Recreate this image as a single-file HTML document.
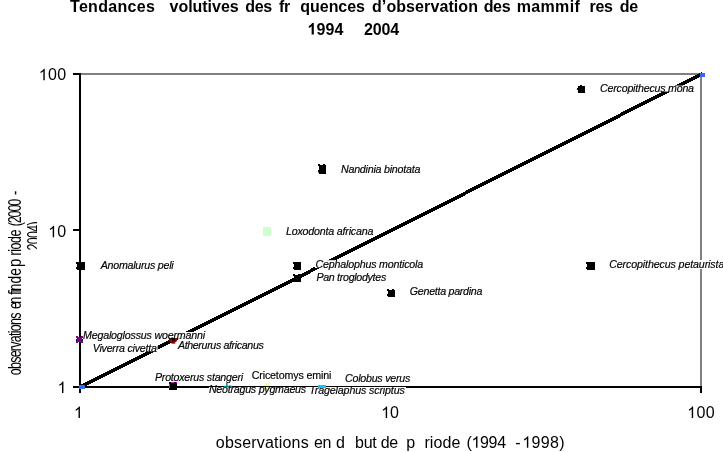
<!DOCTYPE html>
<html><head><meta charset="utf-8"><title>Tendances evolutives</title>
<style>
html,body{margin:0;padding:0;background:#fff;}
body{width:723px;height:452px;overflow:hidden;position:relative;font-family:"Liberation Sans",sans-serif;}
svg{position:absolute;left:0;top:0;display:block;}
svg text{font-family:"Liberation Sans",sans-serif;fill:#000;white-space:pre;}
</style></head>
<body>
<svg width="723" height="452" viewBox="0 0 723 452">
<rect x="0" y="0" width="723" height="452" fill="#fff"/>
<g id="shapes">
<rect x="81" y="73" width="621" height="2" fill="#808080"/>
<rect x="700" y="73" width="2" height="313" fill="#808080"/>
<rect x="79" y="73" width="2" height="320" fill="#000"/>
<rect x="73" y="386" width="629" height="2" fill="#000"/>
<rect x="73" y="73" width="8" height="2" fill="#000"/>
<rect x="73" y="229" width="6" height="2" fill="#000"/>
<rect x="700" y="386" width="2" height="7" fill="#000"/>
<polygon points="80,385 702,72 702,76 80,389" fill="#000" shape-rendering="crispEdges"/>
<rect x="83" y="332.0" width="123.5" height="6.6" fill="#fff"/>
<rect x="92" y="344.6" width="65.6" height="7.0" fill="#fff"/>
<rect x="315" y="260.2" width="109" height="7.8" fill="#fff"/>
<rect x="600" y="85.6" width="95" height="6.0" fill="#fff"/>
<rect x="698" y="260" width="8" height="9" fill="#fff"/>
<rect x="79" y="385" width="6" height="4" fill="#3366FF"/>
<rect x="700" y="73" width="5" height="4" fill="#3366FF"/>
<rect x="263" y="227" width="8" height="9" fill="#CCFFCC"/>
<rect x="578" y="86" width="7" height="7" fill="#000"/>
<rect x="580" y="85" width="2" height="1" fill="#000"/>
<rect x="577" y="88" width="1" height="2" fill="#000"/>
<rect x="319" y="165" width="7" height="9" fill="#000"/>
<rect x="318" y="164" width="2" height="2" fill="#000"/>
<rect x="323" y="164" width="2" height="1" fill="#000"/>
<rect x="318" y="170" width="1" height="2.5" fill="#000"/>
<rect x="77" y="262" width="8" height="8" fill="#000"/>
<rect x="76" y="262" width="1" height="2" fill="#000"/>
<rect x="76" y="267" width="1" height="2" fill="#000"/>
<rect x="294" y="262" width="7" height="8" fill="#000"/>
<rect x="293" y="262" width="1" height="2" fill="#000"/>
<rect x="293" y="267" width="1" height="2" fill="#000"/>
<rect x="294" y="275" width="7" height="7" fill="#000"/>
<rect x="293" y="274" width="2" height="2" fill="#000"/>
<rect x="298" y="274" width="2" height="1" fill="#000"/>
<rect x="587" y="262" width="8" height="8" fill="#000"/>
<rect x="586" y="262" width="1" height="2" fill="#000"/>
<rect x="586" y="267" width="1" height="2" fill="#000"/>
<rect x="388" y="290" width="7" height="7" fill="#000"/>
<rect x="387" y="289" width="2" height="2" fill="#000"/>
<rect x="392" y="289" width="2" height="1" fill="#000"/>
<rect x="387" y="294" width="1" height="2" fill="#000"/>
<rect x="169" y="382" width="8" height="8" fill="#000"/>
<rect x="171" y="382" width="3" height="1" fill="#FF00FF"/>
<rect x="169" y="384" width="1" height="4" fill="#FF00FF"/>
<rect x="176" y="382" width="1" height="1" fill="#FF00FF"/>
<rect x="76" y="336" width="1" height="1" fill="#800080"/>
<rect x="77" y="336" width="1" height="1" fill="#800080"/>
<rect x="81" y="336" width="1" height="1" fill="#800080"/>
<rect x="82" y="336" width="1" height="1" fill="#800080"/>
<rect x="76" y="337" width="1" height="1" fill="#800080"/>
<rect x="77" y="337" width="1" height="1" fill="#800080"/>
<rect x="78" y="337" width="1" height="1" fill="#800080"/>
<rect x="79" y="337" width="1" height="1" fill="#800080"/>
<rect x="80" y="337" width="1" height="1" fill="#800080"/>
<rect x="81" y="337" width="1" height="1" fill="#800080"/>
<rect x="82" y="337" width="1" height="1" fill="#800080"/>
<rect x="77" y="338" width="1" height="1" fill="#800080"/>
<rect x="78" y="338" width="1" height="1" fill="#800080"/>
<rect x="79" y="338" width="1" height="1" fill="#800080"/>
<rect x="80" y="338" width="1" height="1" fill="#800080"/>
<rect x="81" y="338" width="1" height="1" fill="#800080"/>
<rect x="76" y="339" width="1" height="1" fill="#000080"/>
<rect x="77" y="339" width="1" height="1" fill="#800080"/>
<rect x="78" y="339" width="1" height="1" fill="#800080"/>
<rect x="79" y="339" width="1" height="1" fill="#800080"/>
<rect x="80" y="339" width="1" height="1" fill="#800080"/>
<rect x="81" y="339" width="1" height="1" fill="#800080"/>
<rect x="82" y="339" width="1" height="1" fill="#000080"/>
<rect x="76" y="340" width="1" height="1" fill="#000080"/>
<rect x="77" y="340" width="1" height="1" fill="#800080"/>
<rect x="78" y="340" width="1" height="1" fill="#800080"/>
<rect x="79" y="340" width="1" height="1" fill="#800080"/>
<rect x="80" y="340" width="1" height="1" fill="#800080"/>
<rect x="81" y="340" width="1" height="1" fill="#800080"/>
<rect x="82" y="340" width="1" height="1" fill="#000080"/>
<rect x="76" y="341" width="1" height="1" fill="#800080"/>
<rect x="77" y="341" width="1" height="1" fill="#800080"/>
<rect x="78" y="341" width="1" height="1" fill="#800080"/>
<rect x="79" y="341" width="1" height="1" fill="#800080"/>
<rect x="80" y="341" width="1" height="1" fill="#800080"/>
<rect x="81" y="341" width="1" height="1" fill="#800080"/>
<rect x="82" y="341" width="1" height="1" fill="#800080"/>
<rect x="76" y="342" width="1" height="1" fill="#800080"/>
<rect x="77" y="342" width="1" height="1" fill="#800080"/>
<rect x="81" y="342" width="1" height="1" fill="#800080"/>
<rect x="82" y="342" width="1" height="1" fill="#800080"/>
<rect x="169" y="338" width="3" height="3" fill="#990000"/>
<rect x="174.6" y="338" width="2.4" height="3" fill="#990000"/>
<rect x="172" y="338" width="2.6" height="2.8" fill="#000"/>
<rect x="170" y="340.8" width="6.4" height="1.2" fill="#990000"/>
<rect x="171.5" y="342" width="3.8" height="1.7" fill="#990000"/>
<rect x="209" y="387" width="197" height="11" fill="#fff"/>
<polygon points="266.8,381.6 270.2,386 266.8,390.4 263.4,386" fill="#FFFF99"/>
<rect x="262" y="386" width="10" height="1" fill="#000"/>
<rect x="226.1" y="383" width="1.5" height="3.5" fill="#008B8B"/>
<rect x="223.8" y="385.8" width="8.2" height="1.3" fill="#008B8B"/>
<rect x="318" y="385" width="8" height="3" fill="#00CCFF"/>
</g>
</svg>
<svg width="723" height="452" viewBox="0 0 723 452" style="will-change:transform">
<g id="labels">
<text x="70.00" y="12.30" font-size="16" font-weight="bold" letter-spacing="0.300">Tendances</text>
<text x="169.50" y="12.30" font-size="16" font-weight="bold" letter-spacing="-0.020">volutives</text>
<text x="245.26" y="12.30" font-size="16" font-weight="bold" letter-spacing="-0.350">des</text>
<text x="279.00" y="12.30" font-size="16" font-weight="bold" letter-spacing="-0.328">fr</text>
<text x="300.30" y="12.30" font-size="16" font-weight="bold" letter-spacing="-0.036">quences</text>
<text x="372.00" y="12.30" font-size="16" font-weight="bold" letter-spacing="0.089">d’observation</text>
<text x="483.66" y="12.30" font-size="16" font-weight="bold" letter-spacing="-0.350">des</text>
<text x="516.80" y="12.30" font-size="16" font-weight="bold" letter-spacing="0.315">mammif</text>
<text x="589.59" y="12.30" font-size="16" font-weight="bold" letter-spacing="-0.350">res</text>
<text x="619.84" y="12.30" font-size="16" font-weight="bold" letter-spacing="-0.350">de</text>
<path transform="translate(307.53,34.50) scale(0.007812,-0.007812)" d="M806 0H525V1059Q371 915 162 846V1101Q272 1137 401 1237.5T578 1472H806Z"/>
<text x="316.52" y="34.50" font-size="16" font-weight="bold" letter-spacing="0.090">994</text>
<text x="364.00" y="34.50" font-size="16" font-weight="bold" letter-spacing="-0.165">2004</text>
<text x="215.80" y="447.70" font-size="16" letter-spacing="0.198">observations</text>
<text x="313.88" y="447.70" font-size="16" letter-spacing="-0.350">en</text>
<text x="336.10" y="447.70" font-size="16">d</text>
<text x="355.10" y="447.70" font-size="16" letter-spacing="-0.350">but</text>
<text x="380.68" y="447.70" font-size="16" letter-spacing="-0.350">de</text>
<text x="406.20" y="447.70" font-size="16">p</text>
<text x="424.40" y="447.70" font-size="16" letter-spacing="0.105">riode</text>
<text x="466.50" y="447.70" font-size="16" letter-spacing="-0.331">(</text>
<path transform="translate(471.50,447.70) scale(0.007812,-0.007812)" d="M763 0H583V1147Q518 1085 412.5 1023T223 930V1104Q374 1175 487 1276T647 1472H763Z"/>
<text x="480.06" y="447.70" font-size="16" letter-spacing="-0.331">994</text>
<text x="515.30" y="447.70" font-size="16">-</text>
<path transform="translate(522.33,447.70) scale(0.007812,-0.007812)" d="M763 0H583V1147Q518 1085 412.5 1023T223 930V1104Q374 1175 487 1276T647 1472H763Z"/>
<text x="531.58" y="447.70" font-size="16" letter-spacing="0.350">998)</text>
<path transform="translate(38.78,80.30) scale(0.007812,-0.007812)" d="M763 0H583V1147Q518 1085 412.5 1023T223 930V1104Q374 1175 487 1276T647 1472H763Z"/>
<text x="48.03" y="80.30" font-size="16" letter-spacing="0.350">00</text>
<path transform="translate(48.16,237.30) scale(0.007812,-0.007812)" d="M763 0H583V1147Q518 1085 412.5 1023T223 930V1104Q374 1175 487 1276T647 1472H763Z"/>
<text x="57.30" y="237.30" font-size="16" letter-spacing="0.244">0</text>
<path transform="translate(57.46,393.10) scale(0.007812,-0.007812)" d="M763 0H583V1147Q518 1085 412.5 1023T223 930V1104Q374 1175 487 1276T647 1472H763Z"/>
<path transform="translate(73.96,418.00) scale(0.007812,-0.007812)" d="M763 0H583V1147Q518 1085 412.5 1023T223 930V1104Q374 1175 487 1276T647 1472H763Z"/>
<path transform="translate(381.16,418.00) scale(0.007812,-0.007812)" d="M763 0H583V1147Q518 1085 412.5 1023T223 930V1104Q374 1175 487 1276T647 1472H763Z"/>
<text x="390.00" y="418.00" font-size="16" letter-spacing="-0.056">0</text>
<path transform="translate(687.18,418.00) scale(0.007812,-0.007812)" d="M763 0H583V1147Q518 1085 412.5 1023T223 930V1104Q374 1175 487 1276T647 1472H763Z"/>
<text x="696.43" y="418.00" font-size="16" letter-spacing="0.350">00</text>
<text x="600.10" y="92.10" font-size="10.67" font-style="italic" letter-spacing="-0.224" stroke="#000" stroke-width="0.18">Cercopithecus mona</text>
<text x="341.00" y="172.70" font-size="10.67" font-style="italic" letter-spacing="-0.226" stroke="#000" stroke-width="0.18">Nandinia binotata</text>
<text x="285.90" y="234.50" font-size="10.67" font-style="italic" letter-spacing="-0.183" stroke="#000" stroke-width="0.18">Loxodonta africana</text>
<text x="100.70" y="268.80" font-size="10.67" font-style="italic" letter-spacing="-0.246" stroke="#000" stroke-width="0.18">Anomalurus peli</text>
<text x="315.50" y="268.10" font-size="10.67" font-style="italic" letter-spacing="-0.182" stroke="#000" stroke-width="0.18">Cephalophus monticola</text>
<text x="316.40" y="280.80" font-size="10.67" font-style="italic" letter-spacing="-0.301" stroke="#000" stroke-width="0.18">Pan troglodytes</text>
<text x="609.20" y="267.60" font-size="10.67" font-style="italic" letter-spacing="-0.120" stroke="#000" stroke-width="0.18">Cercopithecus petaurista</text>
<text x="409.80" y="294.70" font-size="10.67" font-style="italic" letter-spacing="-0.271" stroke="#000" stroke-width="0.18">Genetta pardina</text>
<text x="83.00" y="338.60" font-size="10.67" font-style="italic" letter-spacing="-0.186" stroke="#000" stroke-width="0.18">Megaloglossus woermanni</text>
<text x="92.70" y="351.50" font-size="10.67" font-style="italic" letter-spacing="-0.221" stroke="#000" stroke-width="0.18">Viverra civetta</text>
<text x="177.90" y="348.60" font-size="10.67" font-style="italic" letter-spacing="-0.360" stroke="#000" stroke-width="0.18">Atherurus africanus</text>
<text x="155.00" y="380.70" font-size="10.67" font-style="italic" letter-spacing="-0.241" stroke="#000" stroke-width="0.18">Protoxerus stangeri</text>
<text x="251.70" y="379.00" font-size="10.67" letter-spacing="-0.136" stroke="#000" stroke-width="0.18">Cricetomys emini</text>
<text x="345.10" y="381.90" font-size="10.67" font-style="italic" letter-spacing="-0.249" stroke="#000" stroke-width="0.18">Colobus verus</text>
<text x="208.90" y="392.70" font-size="10.67" font-style="italic" letter-spacing="-0.239" stroke="#000" stroke-width="0.18">Neotragus pygmaeus</text>
<text x="309.20" y="393.70" font-size="10.67" font-style="italic" letter-spacing="-0.131" stroke="#000" stroke-width="0.18">Tragelaphus scriptus</text>
</g>
<g id="ylabel">
<text transform="translate(20.70,375.30) rotate(-90) scale(0.780,1.1)" font-size="16" letter-spacing="-0.928">observations</text>
<text transform="translate(20.70,309.00) rotate(-90) scale(0.780,1.1)" font-size="16" letter-spacing="-2.027">en</text>
<text transform="translate(20.70,294.80) rotate(-90) scale(0.780,1.1)" font-size="16" letter-spacing="-1.333">fin</text>
<text transform="translate(20.70,283.40) rotate(-90) scale(0.866,1.1)" font-size="16">de</text>
<text transform="translate(20.70,266.94) rotate(-90) scale(0.938,1.1)" font-size="16">p</text>
<text transform="translate(20.70,255.38) rotate(-90) scale(0.780,1.1)" font-size="16" letter-spacing="-0.625">riode</text>
<text transform="translate(20.70,226.18) rotate(-90) scale(0.780,1.1)" font-size="16" letter-spacing="-1.480">(2000</text>
<text transform="translate(20.70,195.00) rotate(-90) scale(0.800,1.1)" font-size="16">-</text>
<clipPath id="c2"><rect x="24" y="200" width="13" height="70"/></clipPath>
<g clip-path="url(#c2)">
<text transform="translate(40.10,250.40) rotate(-90) scale(0.780,1.1)" font-size="16" letter-spacing="-0.918">2004)</text>
</g>
</g>
</svg>
</body></html>
